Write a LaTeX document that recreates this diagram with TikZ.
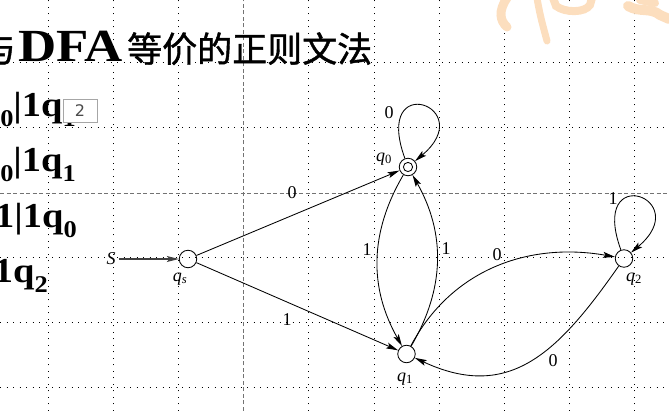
\documentclass[tikz,border=0pt]{standalone}
\usepackage{fontspec}
\setmainfont{Liberation Serif}
\newfontfamily\cjk[FakeBold=1.2]{Noto Sans CJK SC}
\newfontfamily\uisans{DejaVu Sans}
\usetikzlibrary{arrows.meta}

\definecolor{wmark}{RGB}{252,222,190}

\tikzset{
  state/.style={circle, draw, line width=0.85pt, minimum size=17.5pt, inner sep=0pt},
  final/.style={state, path picture={\draw[line width=0.85pt] (path picture bounding box.center) circle (4.6pt);}},
  trans/.style={-{Stealth[length=12pt,width=6pt,inset=2.5pt]}, line width=0.85pt},
  sym/.style={font=\fontsize{18}{18}\selectfont, inner sep=0pt},
  grid dots/.style={line width=1pt, dash pattern=on 1pt off 5.5pt},
  grid dash/.style={black!55, line width=0.6pt, dash pattern=on 4pt off 2.5pt},
  rule/.style={font=\fontsize{35}{35}\selectfont\bfseries, inner sep=0pt, anchor=base east},
}
\newcommand{\sbs}[1]{\raisebox{-10pt}{\fontsize{24}{24}\selectfont #1}}
\newcommand{\stname}[1]{\textit{q}\textsubscript{#1}}

\begin{document}
\begin{tikzpicture}[x=1pt, y=1pt]
  \useasboundingbox (0,0) rectangle (669,411);
  \clip (0,0) rectangle (669,411);

  % background grid of the slide
  \foreach \x in {48,113.2,178.4,308.8,374,439.2,504.4,569.6,634.8}
    \draw[grid dots] (\x,0) -- (\x,411);
  \draw[grid dash] (243.6,0) -- (243.6,411);
  \foreach \y in {348,283,153,88,23}
    \draw[grid dots] (0,\y) -- (669,\y);
  \draw[grid dash] (0,218) -- (669,218);

  % watermark
  \begin{scope}[wmark, line cap=round]
    \draw[line width=9pt] (507,413) .. controls (498,400) and (500,390) .. (507,384);
    \draw[line width=7pt] (537,413) .. controls (540,395) and (543,385) .. (547,370);
    \draw[line width=8pt] (553,413) -- (556,405) .. controls (565,398) and (585,398) .. (590,406) -- (592,413);
    \draw[line width=10pt] (628,405) .. controls (640,398) and (650,404) .. (660,396) -- (669,392);
    \draw[line width=8pt] (640,411) -- (655,408);
  \end{scope}

  % title
  \node[anchor=base west, inner sep=0pt, font=\fontsize{46}{46}\selectfont\bfseries] (dfa) at (18,349) {\scalebox{1.15}[1]{DFA}};
  \node[anchor=base east, inner sep=0pt, font={\cjk\fontsize{35}{35}\selectfont}] (yu) at (16,349) {与};
  \node[anchor=base west, inner sep=0pt, font={\cjk\fontsize{35}{35}\selectfont}] (title) at (127,349) {等价的正则文法};

  % productions
  \node[rule] (r1) at (76,294) {\scalebox{1.1}[1]{q\sbs{0}|1q\sbs{1}}};
  \node[rule] (r2) at (76,239) {\scalebox{1.1}[1]{q\sbs{0}|1q\sbs{1}}};
  \node[rule] (r3) at (77,183) {\scalebox{1.1}[1]{q\sbs{2}|1|1q\sbs{0}}};
  \node[rule] (r4) at (48,128) {\scalebox{1.1}[1]{q\sbs{1}|1q\sbs{2}}};
  \node[draw=black!35, fill=white, line width=0.6pt, minimum width=34pt, minimum height=23pt,
        inner sep=0pt, text=black!70, font={\uisans\fontsize{16}{16}\selectfont}] (note) at (80,300.5) {2};

  % automaton
  \node[state] (qs) at (188,152) {};
  \node[final] (q0) at (408,244) {};
  \node[state] (q1) at (406.5,57) {};
  \node[state] (q2) at (624,152.5) {};
  \node[sym] (start) at (111,152) {\textit{S}};

  \node[sym] (lqs) at (180,132) {\stname{\itshape s}};
  \node[sym] (lq0) at (384,252) {\stname{0}};
  \node[sym] (lq1) at (405,32) {\stname{1}};
  \node[sym] (lq2) at (634,132) {\stname{2}};

  \draw[trans, line width=1.2pt, black!75, shorten <=3pt] (start) -- (qs);
  \draw[trans] (qs) -- (q0);
  \draw[trans] (qs) -- (q1);
  \draw[trans] (q0) to[bend right=30] (q1);
  \draw[trans] (q1) to[bend right=30] (q0);
  \draw[trans] (q1) to[out=62, in=170] (q2);
  \draw[trans] (q2) to[out=235, in=-25, looseness=1.2] (q1);
  \draw[trans] (q0) to[out=110, in=40, out distance=95pt, in distance=85pt] (q0);
  \draw[trans] (q2) to[out=110, in=40, out distance=95pt, in distance=85pt] (q2);

  \node[sym] (e1) at (292,218) {0};
  \node[sym] (e2) at (287,91) {1};
  \node[sym] (e3) at (367,161) {1};
  \node[sym] (e4) at (446,162) {1};
  \node[sym] (e5) at (497,156) {0};
  \node[sym] (e6) at (553,50) {0};
  \node[sym] (e7) at (389,298) {0};
  \node[sym] (e8) at (613,212) {1};
\end{tikzpicture}
\end{document}
